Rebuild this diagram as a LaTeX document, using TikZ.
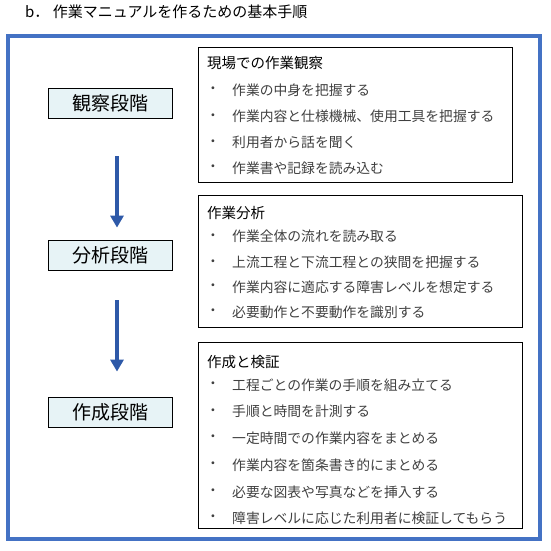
\documentclass[tikz,border=0pt]{standalone}
\usepackage{fontspec}
\usepackage{tikz}
\usetikzlibrary{arrows.meta,positioning}
\newfontfamily\jpfont{Noto Sans CJK JP}
\definecolor{framecol}{RGB}{68,114,196}
\definecolor{arrowcol}{RGB}{46,89,168}
\definecolor{stagefill}{RGB}{231,243,246}
\definecolor{itemcol}{RGB}{64,64,64}

\begin{document}
\begin{tikzpicture}[x=1pt,y=-1pt,
  stagebox/.style={draw=black,line width=0.8pt,fill=stagefill,minimum width=124pt,minimum height=30pt,inner sep=0pt,font=\jpfont\fontsize{19}{19}\selectfont},
  infobox/.style={draw=black,line width=0.8pt,anchor=north west,inner sep=0pt},
  heading/.style={anchor=west,inner sep=0pt,font=\jpfont\fontsize{14.5}{14.5}\selectfont},
  item/.style={anchor=west,inner sep=0pt,text=itemcol,font=\jpfont\fontsize{13.8}{13.8}\selectfont},
  dot/.style={inner sep=0pt,text=itemcol,font=\jpfont\fontsize{13.8}{13.8}\selectfont},
  flowarrow/.style={arrowcol,line width=4.5pt,-{Triangle[width=13pt,length=12pt]}}]
\useasboundingbox (0,0) rectangle (550,551);
% title
\node[anchor=west,inner sep=0pt,font=\jpfont\fontsize{15}{15}\selectfont] (title) at (25,12) {b．\ 作業マニュアルを作るための基本手順};
% outer frame
\draw[framecol,line width=4pt] (8,36) rectangle (540,538.5);
% stages
\node[stagebox] (kansatsu) at (110,103) {観察段階};
\node[stagebox] (bunseki) at (110,255) {分析段階};
\node[stagebox] (sakusei) at (110,412) {作成段階};
\draw[flowarrow,shorten <=38pt,shorten >=12pt] ([xshift=7pt]kansatsu.south) -- ([xshift=7pt]bunseki.north);
\draw[flowarrow,shorten <=30pt,shorten >=25pt] ([xshift=7pt]bunseki.south) -- ([xshift=7pt]sakusei.north);
% detail boxes
\node[infobox,minimum width=314pt,minimum height=135pt] (genba) at (198,47) {};
\node[infobox,minimum width=324pt,minimum height=132pt] (bunsekiBox) at (198,195) {};
\node[infobox,minimum width=324pt,minimum height=186pt] (kensho) at (198,342) {};
% observation
\node[heading] (h1) at (207,63.3) {現場での作業観察};
\node[dot] at (213,90) {・};
\node[item] (a1) at (232,90) {作業の中身を把握する};
\node[dot] at (213,116.7) {・};
\node[item] (a2) at (232,116.7) {作業内容と仕様機械、使用工具を把握する};
\node[dot] at (213,142.7) {・};
\node[item] (a3) at (232,142.7) {利用者から話を聞く};
\node[dot] at (213,168.3) {・};
\node[item] (a4) at (232,168.3) {作業書や記録を読み込む};
% analysis
\node[heading] (h2) at (207,212.7) {作業分析};
\node[dot] at (213,236.7) {・};
\node[item] (b1) at (232,236.7) {作業全体の流れを読み取る};
\node[dot] at (213,262.7) {・};
\node[item] (b2) at (232,262.7) {上流工程と下流工程との狭間を把握する};
\node[dot] at (213,287.3) {・};
\node[item] (b3) at (232,287.3) {作業内容に適応する障害レベルを想定する};
\node[dot] at (213,312.3) {・};
\node[item] (b4) at (232,312.3) {必要動作と不要動作を識別する};
% creation
\node[heading] (h3) at (207,361.7) {作成と検証};
\node[dot] at (213,385) {・};
\node[item] (c1) at (232,385) {工程ごとの作業の手順を組み立てる};
\node[dot] at (213,411.7) {・};
\node[item] (c2) at (232,411.7) {手順と時間を計測する};
\node[dot] at (213,438.3) {・};
\node[item] (c3) at (232,438.3) {一定時間での作業内容をまとめる};
\node[dot] at (213,465) {・};
\node[item] (c4) at (232,465) {作業内容を箇条書き的にまとめる};
\node[dot] at (213,492.3) {・};
\node[item] (c5) at (232,492.3) {必要な図表や写真などを挿入する};
\node[dot] at (213,518.3) {・};
\node[item] (c6) at (232,518.3) {障害レベルに応じた利用者に検証してもらう};
\end{tikzpicture}
\end{document}
